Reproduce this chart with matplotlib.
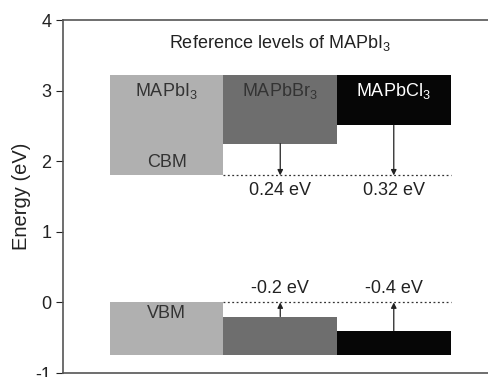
import matplotlib.pyplot as plt
from matplotlib.patches import Rectangle

plt.rcParams['font.family'] = ['Liberation Sans', 'DejaVu Sans']
plt.rcParams['mathtext.fontset'] = 'custom'
plt.rcParams['mathtext.rm'] = 'Liberation Sans'
plt.rcParams['mathtext.it'] = 'Liberation Sans'
plt.rcParams['axes.unicode_minus'] = False

# band edges (eV), one box per perovskite
names = ['MAPbI$_3$', 'MAPbBr$_3$', 'MAPbCl$_3$']
colors = ['#b0b0b0', '#6e6e6e', '#060606']
label_colors = ['#333333', '#333333', '#ffffff']
cb_top = [3.22, 3.22, 3.22]
cbm = [1.8, 2.25, 2.51]
vbm = [0.0, -0.2, -0.4]
vb_bottom = [-0.75, -0.75, -0.75]
cb_shift = ['0.24 eV', '0.32 eV']
vb_shift = ['-0.2 eV', '-0.4 eV']

fs = 13
fig = plt.figure(figsize=(4.88, 3.77), dpi=100)
ax = fig.add_axes([0.129, 0.0106, 0.871, 0.936])

for i in range(3):
    ax.add_patch(Rectangle((i, cbm[i]), 1, cb_top[i] - cbm[i], facecolor=colors[i], edgecolor='none'))
    ax.add_patch(Rectangle((i, vb_bottom[i]), 1, vbm[i] - vb_bottom[i], facecolor=colors[i], edgecolor='none'))
    ax.text(i + 0.5, 2.99, names[i], ha='center', va='center', fontsize=fs, color=label_colors[i])

ax.text(0.5, 1.98, 'CBM', ha='center', va='center', fontsize=fs, color='#333333')
ax.text(0.5, -0.15, 'VBM', ha='center', va='center', fontsize=fs, color='#333333')

# reference levels of MAPbI3
ax.plot([1, 3], [cbm[0], cbm[0]], ls=(0, (1.5, 2)), color='#333333', lw=0.9)
ax.plot([1, 3], [vbm[0], vbm[0]], ls=(0, (1.5, 2)), color='#333333', lw=0.9)

for j in range(2):
    xc = j + 1.5
    ax.annotate('', xy=(xc, cbm[0]), xytext=(xc, cbm[j + 1]),
                arrowprops=dict(arrowstyle='-|>', color='#222222', lw=0.9, mutation_scale=8, shrinkA=0, shrinkB=0))
    ax.annotate('', xy=(xc, vbm[0]), xytext=(xc, vbm[j + 1]),
                arrowprops=dict(arrowstyle='-|>', color='#222222', lw=0.9, mutation_scale=8, shrinkA=0, shrinkB=0))
    ax.text(xc, 1.58, cb_shift[j], ha='center', va='center', fontsize=fs, color='#222222')
    ax.text(xc, 0.2, vb_shift[j], ha='center', va='center', fontsize=fs, color='#222222')

ax.text(1.5, 3.68, 'Reference levels of MAPbI$_3$', ha='center', va='center', fontsize=fs, color='#222222')

ax.set_xlim(-0.414, 3.33)
ax.set_ylim(-1, 4)
ax.set_yticks([-1, 0, 1, 2, 3, 4])
ax.set_xticks([])
ax.set_ylabel('Energy (eV)', fontsize=14.5, color='#222222', labelpad=3)
ax.tick_params(axis='y', direction='out', length=5, labelsize=13, colors='#222222')
for s in ['left', 'top', 'bottom']:
    ax.spines[s].set_color('#555555')
    ax.spines[s].set_linewidth(1.2)
ax.spines['right'].set_visible(False)

plt.savefig('out.png', dpi=100)
